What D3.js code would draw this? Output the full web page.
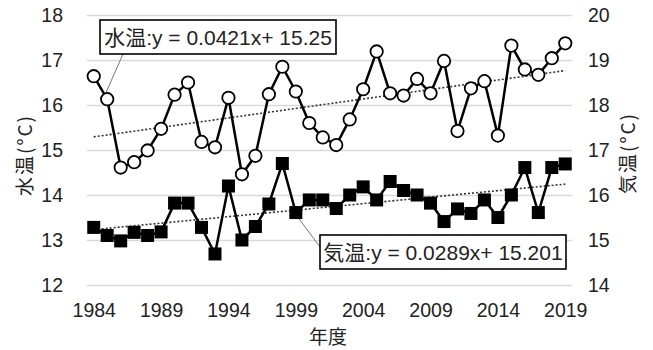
<!DOCTYPE html>
<html>
<head>
<meta charset="utf-8">
<script src="https://cdn.jsdelivr.net/npm/d3@7"></script>
<style>
  body { margin: 0; background: #fff; }
  text { font-family: "Liberation Sans Narrow", "Liberation Sans", "Noto Sans CJK JP", sans-serif; fill: #222; }
  .jp { font-family: "Noto Sans CJK JP", sans-serif; }
</style>
</head>
<body>
<svg id="chart" width="653" height="350"></svg>
<script>
// years (年度)
var years = d3.range(1984, 2020);
var xTicks = [1984, 1989, 1994, 1999, 2004, 2009, 2014, 2019];

// water temperature, left axis
var waterTemp = [16.64, 16.13, 14.61, 14.73, 14.99, 15.47, 16.23, 16.50, 15.18, 15.06,
                 16.16, 14.46, 14.87, 16.24, 16.85, 16.30, 15.60, 15.28, 15.11, 15.68,
                 16.35, 17.19, 16.26, 16.21, 16.58, 16.26, 16.98, 15.42, 16.37, 16.53,
                 15.32, 17.32, 16.79, 16.67, 17.04, 17.37];

// air temperature, right axis
var airTemp = [15.28, 15.10, 14.98, 15.17, 15.10, 15.18, 15.82, 15.82, 15.28, 14.69,
               16.20, 15.00, 15.30, 15.80, 16.70, 15.61, 15.89, 15.89, 15.70, 16.00,
               16.18, 15.89, 16.30, 16.10, 16.00, 15.82, 15.41, 15.69, 15.59, 15.89,
               15.50, 16.00, 16.61, 15.61, 16.61, 16.69];

var leftTicks = [12, 13, 14, 15, 16, 17, 18];
var rightTicks = [14, 15, 16, 17, 18, 19, 20];

// linear trend y = a*x + b, x = 1..36
var waterTrend = { a: 0.0421, b: 15.25, label: "水温:y = 0.0421x+ 15.25" };
var airTrend = { a: 0.0289, b: 15.201, label: "気温:y = 0.0289x+ 15.201" };

var svg = d3.select("#chart");
var plotL = 87, plotR = 572, plotT = 15, plotB = 285;

var x = d3.scalePoint().domain(years).range([plotL, plotR]).padding(0.5);
var yL = d3.scaleLinear().domain([12, 18]).range([plotB, plotT]);
var yR = d3.scaleLinear().domain([14, 20]).range([plotB, plotT]);

// gridlines
svg.append("g")
  .attr("transform", "translate(" + plotL + ",0)")
  .call(d3.axisLeft(yL).tickValues(leftTicks).tickSize(-(plotR - plotL)).tickFormat(""))
  .call(function(g) {
    g.select(".domain").remove();
    g.selectAll("line").attr("stroke", "#d9d9d9").attr("stroke-width", 1.3);
  });

function styleTicks(g) {
  g.select(".domain").remove();
  g.selectAll("text")
    .style("font-size", "19.5px")
    .attr("fill", "#222");
}

// left axis labels
svg.append("g")
  .attr("transform", "translate(" + plotL + ",0)")
  .call(d3.axisLeft(yL).tickValues(leftTicks).tickFormat(d3.format("d")).tickSize(0).tickPadding(24))
  .attr("font-family", null)
  .call(styleTicks);

// right axis labels
svg.append("g")
  .attr("transform", "translate(" + plotR + ",0)")
  .call(d3.axisRight(yR).tickValues(rightTicks).tickFormat(d3.format("d")).tickSize(0).tickPadding(16))
  .attr("font-family", null)
  .call(styleTicks);

// x axis labels
svg.append("g")
  .attr("transform", "translate(0," + plotB + ")")
  .call(d3.axisBottom(x).tickValues(xTicks).tickFormat(d3.format("d")).tickSize(0).tickPadding(18))
  .attr("font-family", null)
  .call(styleTicks);

// axis titles
svg.append("text")
  .attr("class", "jp")
  .attr("transform", "translate(32,155) rotate(-90)")
  .attr("text-anchor", "middle")
  .attr("letter-spacing", 2)
  .style("font-size", "19px")
  .text("水温(°C)");
svg.append("text")
  .attr("class", "jp")
  .attr("transform", "translate(635,153) rotate(-90)")
  .attr("text-anchor", "middle")
  .attr("letter-spacing", 2)
  .style("font-size", "19px")
  .text("気温(°C)");
svg.append("text")
  .attr("class", "jp")
  .attr("x", 328).attr("y", 344)
  .attr("text-anchor", "middle")
  .style("font-size", "19px")
  .text("年度");

// trend lines (dotted)
function trendLine(t, yScale) {
  var pts = [years[0], years[years.length - 1]].map(function(yr) {
    var i = yr - years[0] + 1;
    return [x(yr), yScale(t.a * i + t.b)];
  });
  svg.append("path")
    .attr("d", d3.line()(pts))
    .attr("fill", "none")
    .attr("stroke", "#333")
    .attr("stroke-width", 1.6)
    .attr("stroke-dasharray", "2,2");
}
trendLine(waterTrend, yL);
trendLine(airTrend, yR);

// connector lines for the labels
svg.append("line")
  .attr("x1", 123).attr("y1", 54)
  .attr("x2", x(1985) - 1).attr("y2", yL(waterTemp[1]) - 7)
  .attr("stroke", "#777").attr("stroke-width", 1);
svg.append("line")
  .attr("x1", x(1999) + 3).attr("y1", yR(airTemp[15]) + 6)
  .attr("x2", 320).attr("y2", 247)
  .attr("stroke", "#777").attr("stroke-width", 1);

// air temperature series
svg.append("path")
  .datum(airTemp)
  .attr("fill", "none")
  .attr("stroke", "#000")
  .attr("stroke-width", 2.5)
  .attr("d", d3.line().x(function(d, i) { return x(years[i]); }).y(function(d) { return yR(d); }));
svg.selectAll(".sq")
  .data(airTemp)
  .enter().append("rect")
  .attr("class", "sq")
  .attr("x", function(d, i) { return x(years[i]) - 6.5; })
  .attr("y", function(d) { return yR(d) - 6.5; })
  .attr("width", 13).attr("height", 13)
  .attr("fill", "#000");

// water temperature series
svg.append("path")
  .datum(waterTemp)
  .attr("fill", "none")
  .attr("stroke", "#000")
  .attr("stroke-width", 2.5)
  .attr("d", d3.line().x(function(d, i) { return x(years[i]); }).y(function(d) { return yL(d); }));
svg.selectAll(".dot")
  .data(waterTemp)
  .enter().append("circle")
  .attr("class", "dot")
  .attr("cx", function(d, i) { return x(years[i]); })
  .attr("cy", function(d) { return yL(d); })
  .attr("r", 6.2)
  .attr("fill", "#fff")
  .attr("stroke", "#000")
  .attr("stroke-width", 1.8);

// equation boxes
function labelBox(t, bx, by, bw, bh) {
  var g = svg.append("g");
  g.append("rect")
    .attr("x", bx).attr("y", by).attr("width", bw).attr("height", bh)
    .attr("fill", "#fff").attr("stroke", "#000").attr("stroke-width", 1.6);
  g.append("text")
    .attr("x", bx + bw / 2).attr("y", by + bh / 2 + 7.5)
    .attr("text-anchor", "middle")
    .style("font-size", "21px")
    .text(t.label);
}
labelBox(waterTrend, 100, 20, 236, 34);
labelBox(airTrend, 320, 235, 246, 34);
</script>
</body>
</html>
